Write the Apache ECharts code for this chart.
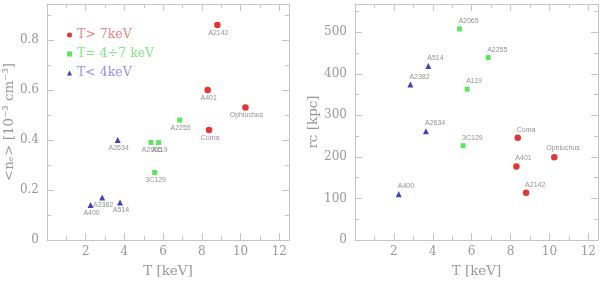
<!DOCTYPE html>
<html><head><meta charset="utf-8">
<script src="https://cdn.jsdelivr.net/npm/echarts@6/dist/echarts.min.js"></script>
<style>html,body{margin:0;padding:0;background:#fff}#c{width:600px;height:283px}</style>
</head><body><div id="c"></div>
<script>
// ---- data ----
const hotNames = ['A2142','A401','Ophiuchus','Coma'];
const hotT     = [8.8, 8.3, 10.25, 8.37];
const hotNe    = [0.86, 0.60, 0.53, 0.44];
const hotRc    = [114, 177, 199, 246];

const midNames = ['A2255','A2065','A119','3C129'];
const midT     = [6.85, 5.37, 5.77, 5.56];
const midNe    = [0.48, 0.39, 0.39, 0.27];
const midRc    = [439, 508, 363, 227];

const coolNames = ['A2634','A2382','A400','A514'];
const coolT     = [3.65, 2.85, 2.25, 3.77];
const coolNe    = [0.40, 0.17, 0.14, 0.15];
const coolRc    = [262, 374, 110, 419];

const legendNames = ['T> 7keV', 'T= 4÷7 keV', 'T< 4keV'];
const xTicks = [2,4,6,8,10,12];

// ---- style ----
const serif = 'DejaVu Serif';
const grey = '#999';
const frame = '#c4c4c4';
const leftLabelStyle = {Coma: {color: '#a0608a'}};
const rightLabelShift = {Ophiuchus: [-8, -9]};

function pts(names, xs, ys, left) {
  return names.map((n, i) => {
    const d = {name: n, value: [xs[i], ys[i]]};
    if (left && leftLabelStyle[n]) d.label = Object.assign({}, leftLabelStyle[n]);
    if (!left && rightLabelShift[n]) d.label = {offset: rightLabelShift[n]};
    return d;
  });
}

const lineS = {show: true, onZero: false, lineStyle: {color: frame}};
const tickS = {inside: true, length: 7, lineStyle: {color: frame}};
const minorS = {show: true, splitNumber: 2, length: 4, lineStyle: {color: frame}};

function xAx(gi) {
  return [{
    gridIndex: gi, type: 'value', min: 0, max: 12.5, interval: 2,
    name: 'T [keV]', nameLocation: 'middle', nameGap: 24,
    nameTextStyle: {fontFamily: serif, fontSize: 13.5, color: grey},
    axisLine: lineS, axisTick: tickS, minorTick: minorS,
    splitLine: {show: false},
    axisLabel: {margin: 6, fontFamily: serif, fontSize: 12, color: grey,
      showMinLabel: false, showMaxLabel: false,
      formatter: v => xTicks.indexOf(v) >= 0 ? String(v) : ''}
  }, {
    gridIndex: gi, type: 'value', position: 'top', min: 0, max: 12.5, interval: 2,
    axisLine: lineS, axisTick: tickS, minorTick: minorS,
    splitLine: {show: false}, axisLabel: {show: false}
  }];
}

function yAx(gi, max, interval, name, gap, fmt) {
  return [{
    gridIndex: gi, type: 'value', min: 0, max: max, interval: interval,
    name: name, nameLocation: 'middle', nameGap: gap, nameRotate: 90,
    nameTextStyle: {fontFamily: serif, fontSize: 13.5, color: grey},
    axisLine: lineS, axisTick: tickS, minorTick: minorS,
    splitLine: {show: false},
    axisLabel: {margin: 8, fontFamily: serif, fontSize: 12, color: grey, showMaxLabel: false, formatter: fmt}
  }, {
    gridIndex: gi, type: 'value', position: 'right', min: 0, max: max, interval: interval,
    axisLine: lineS, axisTick: tickS, minorTick: minorS,
    splitLine: {show: false}, axisLabel: {show: false}
  }];
}

const labelL = {show: true, position: 'inside', offset: [1, 8], align: 'center', verticalAlign: 'middle',
  fontFamily: 'Liberation Sans', fontSize: 7, color: '#777', formatter: p => p.name};
const labelR = {show: true, position: 'inside', offset: [-1, -8], align: 'left', verticalAlign: 'middle',
  fontFamily: 'Liberation Sans', fontSize: 7, color: '#777', formatter: p => p.name};

const groups = [
  {lname: legendNames[0], color: '#e00000', symbol: 'circle', size: 6.5, names: hotNames, T: hotT, ne: hotNe, rc: hotRc},
  {lname: legendNames[1], color: '#33e033', symbol: 'rect', size: 5, names: midNames, T: midT, ne: midNe, rc: midRc},
  {lname: legendNames[2], color: '#1010a8', symbol: 'triangle', size: 6, names: coolNames, T: coolT, ne: coolNe, rc: coolRc}
];
const legendText = ['#ef8080', '#80e880', '#9090ee'];

const series = [];
groups.forEach(g => {
  series.push({type: 'scatter', name: g.lname, xAxisIndex: 0, yAxisIndex: 0, symbol: g.symbol, symbolSize: g.size,
    itemStyle: {color: g.color}, label: labelL, data: pts(g.names, g.T, g.ne, true), z: 3});
  series.push({type: 'scatter', name: g.lname, xAxisIndex: 2, yAxisIndex: 2, symbol: g.symbol, symbolSize: g.size,
    itemStyle: {color: g.color}, label: labelR, data: pts(g.names, g.T, g.rc, false), z: 3});
});

const chart = echarts.init(document.getElementById('c'), null, {renderer: 'canvas'});
chart.setOption({
  animation: false,
  backgroundColor: '#fff',
  grid: [
    {left: 47, right: 311, top: 4, bottom: 39},
    {left: 355, right: 2, top: 4, bottom: 39}
  ],
  legend: {
    orient: 'vertical', left: 62, top: 22, itemGap: 3, itemWidth: 5, itemHeight: 5,
    selectedMode: false,
    data: legendNames.map((n, i) => ({name: n, icon: groups[i].symbol,
      itemStyle: {color: groups[i].color},
      textStyle: {color: legendText[i]}})),
    textStyle: {fontFamily: serif, fontSize: 12.5, lineHeight: 16, padding: [0, 0, 0, 0]}
  },
  xAxis: [...xAx(0), ...xAx(1)],
  yAxis: [
    ...yAx(0, 0.944, 0.2, '<nₑ> [10⁻³ cm⁻³]', 27, v => v === 0 ? '0' : v.toFixed(1)),
    ...yAx(1, 568, 100, 'rc [kpc]', 32, v => String(v))
  ],
  series: series
});
</script></body></html>
